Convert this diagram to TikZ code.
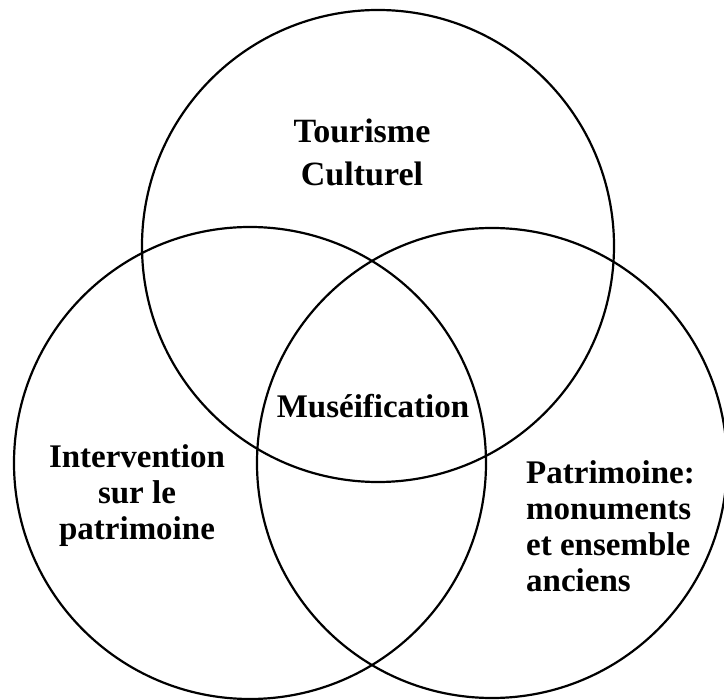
\documentclass[tikz,border=0pt]{standalone}
\usepackage{fontspec}
\setmainfont{Liberation Serif}
\begin{document}
\begin{tikzpicture}[x=1pt,y=1pt,
  ring/.style={draw=black,line width=2.2pt},
  label/.style={font=\bfseries\fontsize{33}{36}\selectfont,inner sep=0pt}]
\useasboundingbox (0,-700) rectangle (724,0);
% three overlapping sets
\draw[ring] (378,-246) circle (236);
\draw[ring] (250,-463) circle (236);
\draw[ring] (492,-463) circle (235);
% set labels
\node[label,align=center,font=\bfseries\fontsize{34}{43}\selectfont] (tour) at (362,-152) {Tourisme\\Culturel};
\node[label] (muse) at (373,-406) {Muséification};
\node[label,align=center] (interv) at (137,-496) {Intervention\\sur le\\patrimoine};
\node[label,align=left,anchor=west] (patr) at (526,-526) {Patrimoine:\\monuments\\et ensemble\\anciens};
\end{tikzpicture}
\end{document}
